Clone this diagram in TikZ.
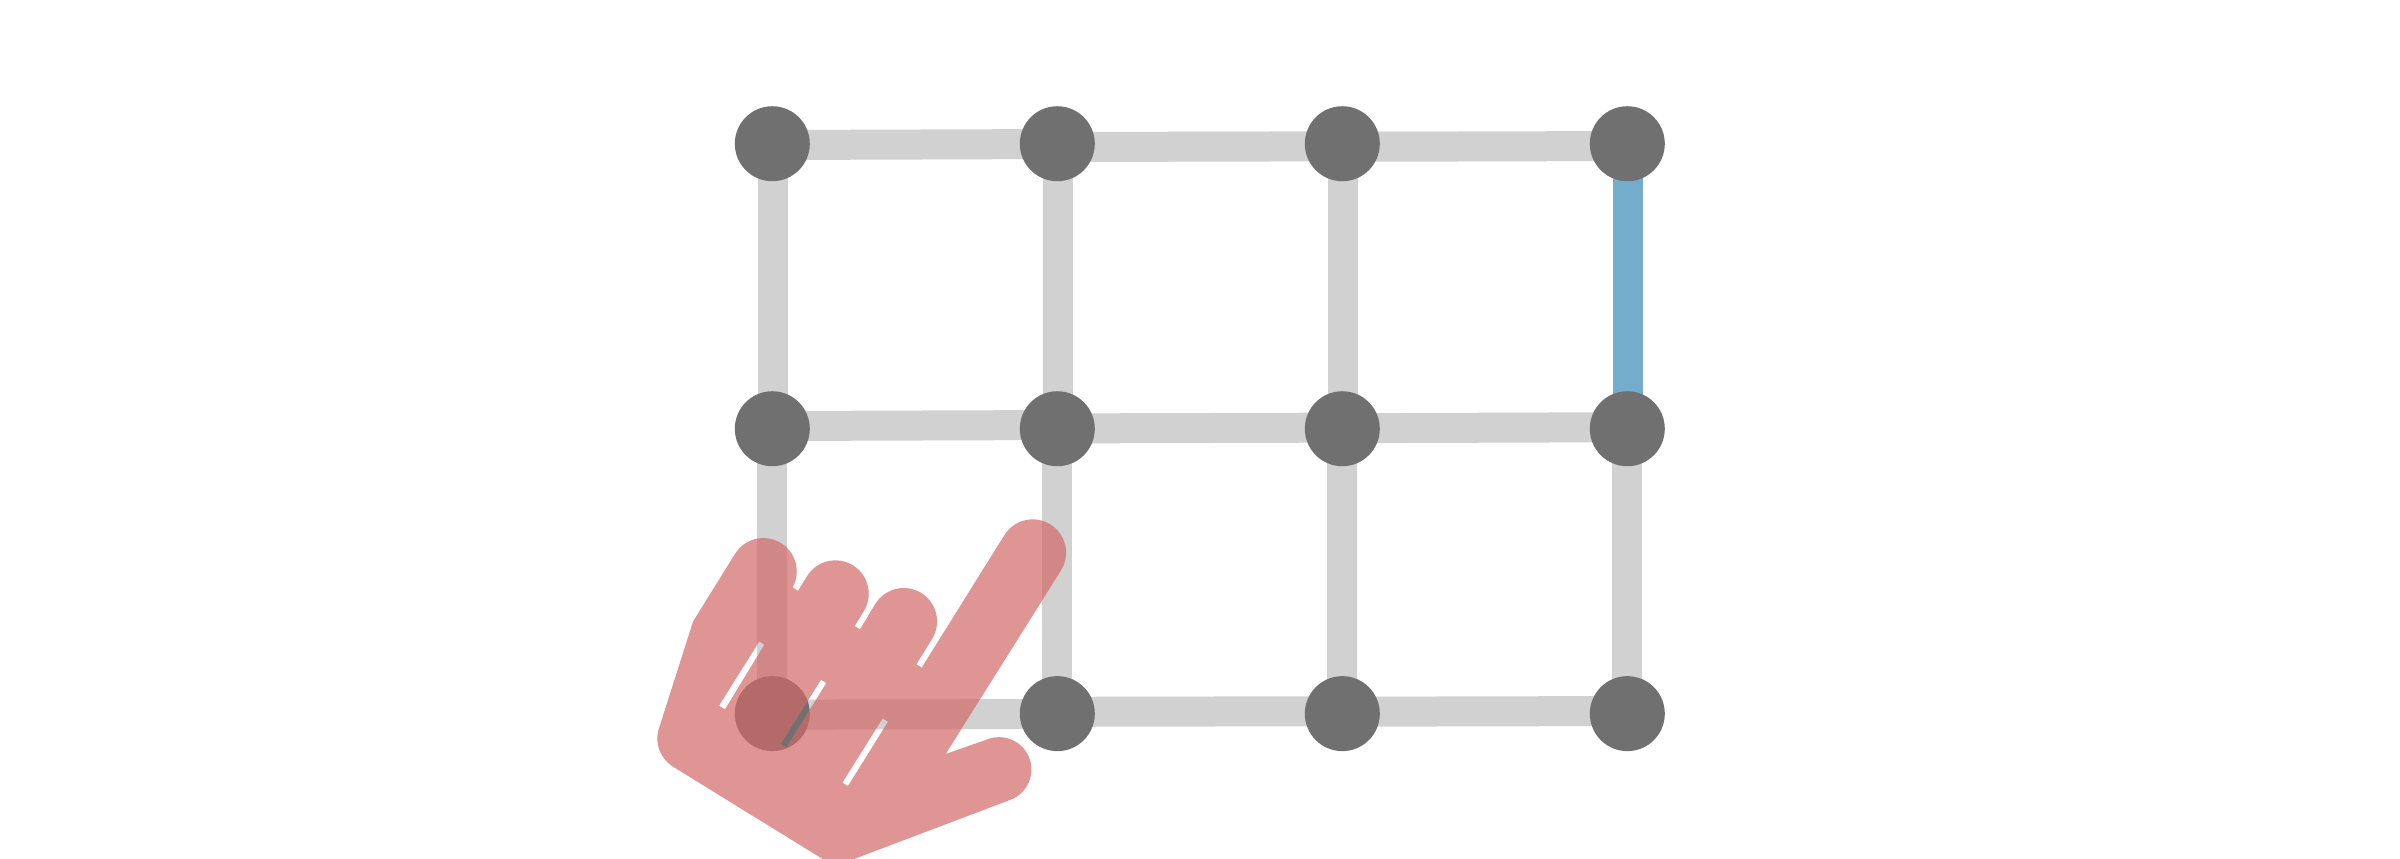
\documentclass[tikz,border=0pt]{standalone}
\usetikzlibrary{calc}
\definecolor{nodegray}{HTML}{707070}
\definecolor{edgegray}{HTML}{D1D1D1}
\definecolor{edgeblue}{HTML}{74ADCC}
\definecolor{handred}{RGB}{211,104,104}
\pgfdeclarelayer{edges}
\pgfsetlayers{edges,main}
\tikzset{
  dot/.style={circle,fill=nodegray,draw=none,inner sep=0pt,outer sep=0pt,minimum size=18pt},
  edge/.style={draw=edgegray,line width=7.2pt,line cap=butt},
  active/.style={draw=edgeblue,line width=7.2pt,line cap=butt},
  handshape/.style={fill=handred,fill opacity=0.7,even odd rule,draw=none}
}
\begin{document}
\begin{tikzpicture}[x=0.24pt,y=-0.24pt]
\useasboundingbox (0,0) rectangle (2400,858);
% nodes
\node[dot] (a1) at (772.3,143.7) {};
\node[dot] (a2) at (1057.3,143.7) {};
\node[dot] (a3) at (1342.3,143.7) {};
\node[dot] (a4) at (1627.3,143.7) {};
\node[dot] (b1) at (772.3,428.7) {};
\node[dot] (b2) at (1057.3,428.7) {};
\node[dot] (b3) at (1342.3,428.7) {};
\node[dot] (b4) at (1627.3,428.7) {};
\node[dot] (c1) at (772.3,713.6) {};
\node[dot] (c2) at (1057.3,713.6) {};
\node[dot] (c3) at (1342.3,713.6) {};
\node[dot] (c4) at (1627.3,713.6) {};
\begin{pgfonlayer}{edges}
\fill[white] (0,0) rectangle (2400,858);
% rows
\draw[edge] ($(a1.center)+(0,1.3)$) -- ($(a2.center)+(0,0.3)$);
\draw[edge] ($(a2.center)+(0,3.3)$) -- ($(a3.center)+(0,2.6)$);
\draw[edge] ($(a3.center)+(0,3.1)$) -- ($(a4.center)+(0,2.3)$);
\draw[edge] ($(b1.center)+(0,-2.7)$) -- ($(b2.center)+(0,-3.7)$);
\draw[edge] ($(b2.center)+(0,-0.3)$) -- ($(b3.center)+(0,-1.1)$);
\draw[edge] ($(b3.center)+(0,-0.5)$) -- ($(b4.center)+(0,-1.5)$);
\draw[edge] ($(c1.center)+(0,1.0)$) -- ($(c2.center)+(0,0.4)$);
\draw[edge] ($(c2.center)+(0,-1.8)$) -- ($(c3.center)+(0,-2.4)$);
\draw[edge] ($(c3.center)+(0,-1.9)$) -- ($(c4.center)+(0,-2.6)$);
% columns
\draw[edge] ($(a1.center)+(0.4,0)$) -- ($(b1.center)+(0.4,0)$);
\draw[edge] ($(a2.center)+(0.4,0)$) -- ($(b2.center)+(0.4,0)$);
\draw[edge] ($(a3.center)+(0.4,0)$) -- ($(b3.center)+(0.4,0)$);
\draw[active] ($(a4.center)+(0.4,0)$) -- ($(b4.center)+(0.4,0)$);
\draw[edge] (b1.center) -- (c1.center);
\draw[edge] (b2.center) -- (c2.center);
\draw[edge] (b3.center) -- (c3.center);
\draw[edge] (b4.center) -- (c4.center);
\end{pgfonlayer}
% hand
\begin{scope}[x=0.08pt,y=-0.08pt,shift={(1860,1500)}]
\path[handshape]
  (518,262) arc[start angle=28.6,end angle=-148,radius=100]
  -- (228,350) .. controls (223,358) and (220,364) .. (218,368) -- (115,691)
  arc[start angle=194,end angle=122,radius=100]
  -- (600,1072) .. controls (640,1098) and (670,1090) .. (710,1074)
  -- (1172,899) arc[start angle=69,end angle=-108,radius=97]
  -- (977,762)
  -- (1323,211) arc[start angle=32,end angle=-148,radius=100]
  -- (905,503) -- (889,493) -- (936,417)
  arc[start angle=32,end angle=-148,radius=100]
  -- (720,388) -- (704,378) -- (731,334)
  arc[start angle=32,end angle=-148,radius=100]
  -- (534,272) -- cycle
  (418,424) -- (433,434) -- (315,628) -- (297,617) -- cycle
  (603,539) -- (619,549) -- (499,742) -- (482,732) -- cycle
  (788,655) -- (804,665) -- (684,858) -- (667,848) -- cycle;
\end{scope}
\end{tikzpicture}
\end{document}
